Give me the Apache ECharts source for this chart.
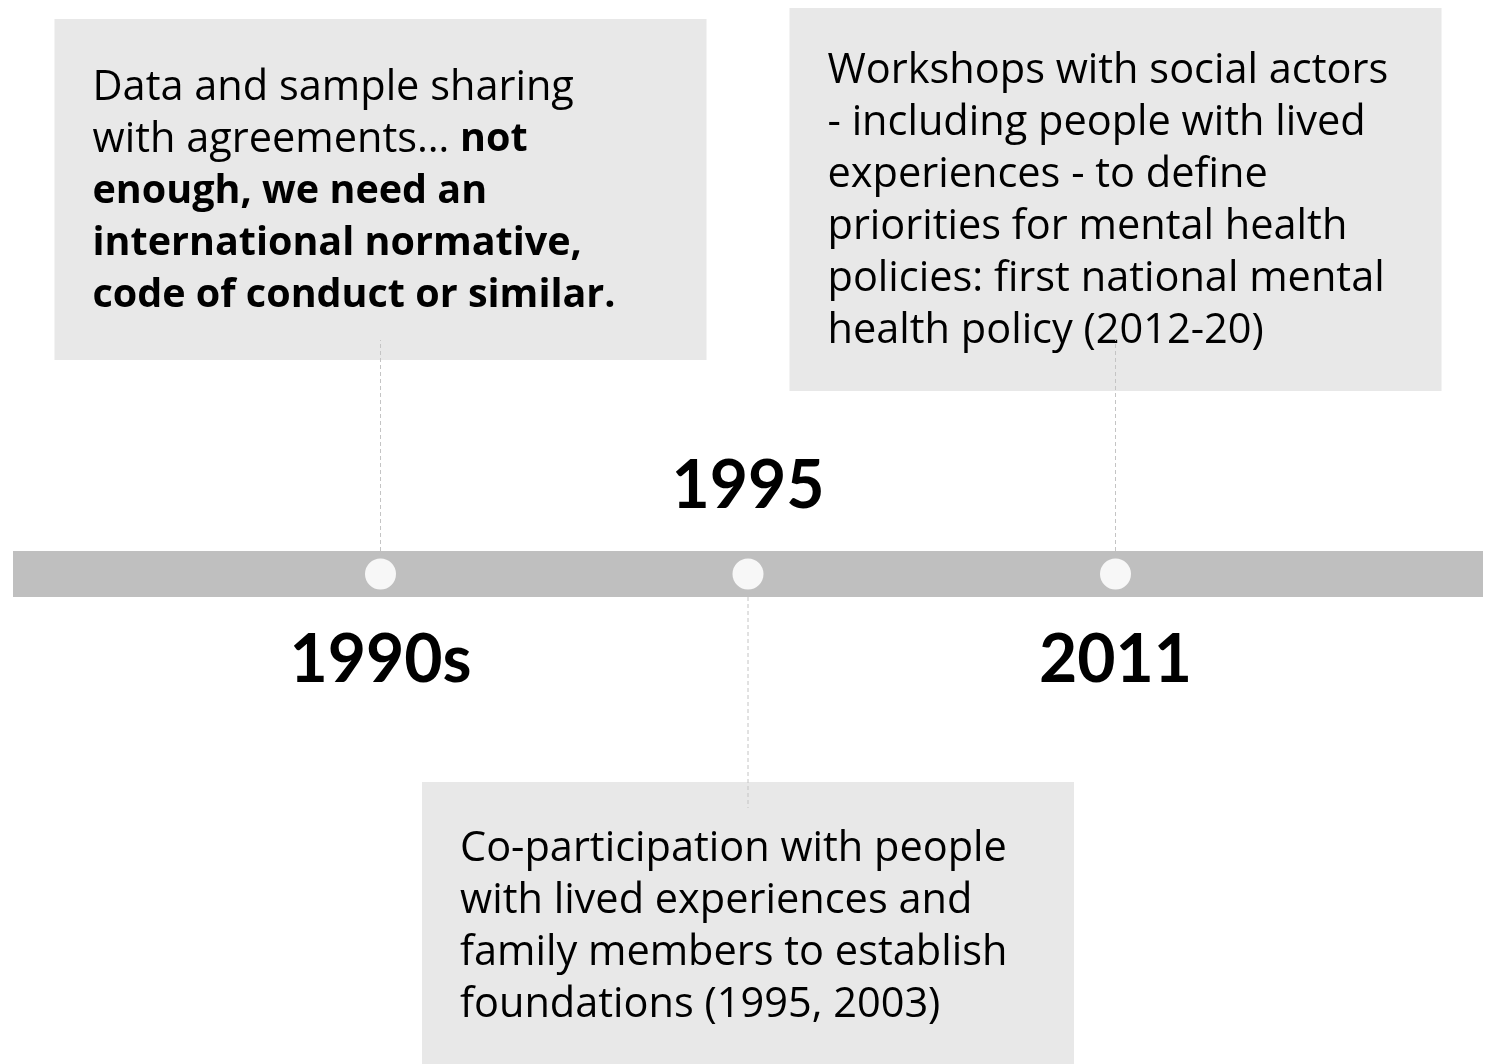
<!DOCTYPE html>
<html>
<head>
<meta charset="utf-8">
<style>
html, body { margin: 0; padding: 0; background: #fff; }
#chart { width: 1496px; height: 1064px; }
</style>
<script src="https://cdn.jsdelivr.net/npm/echarts@6/dist/echarts.min.js"></script>
</head>
<body>
<div id="chart"></div>
<script>
// timeline events
var years = ['1990s', '1995', '2011'];
var slots = [1, 2, 3];              // position on the timeline axis
var sides = [-1, 1, -1];            // -1 = box above the bar, 1 = box below
var notes = [
    ['{r|Data and sample sharing}',
     '{r|with agreements\u2026 }{b|not}',
     '{b|enough, we need an}',
     '{b|international normative,}',
     '{b|code of conduct or similar.}'],
    ['{r|Co-participation with people}',
     '{r|with lived experiences and}',
     '{r|family members to establish}',
     '{r|foundations (1995, 2003)}'],
    ['{r|Workshops with social actors}',
     '{r|- including people with lived}',
     '{r|experiences - to define}',
     '{r|priorities for mental health}',
     '{r|policies: first national mental}',
     '{r|health policy (2012-20)}']
];

// layout of the boxes, relative to the point on the bar
var boxLayout = [
    { top: -555, height: 341, pad: 43 },
    { top: 208, height: 320, pad: 41 },
    { top: -566, height: 383, pad: 37 }
];
var BOX_W = 652;
var FONT = '"Open Sans", Lato, sans-serif';
var YEAR_FONT = 'Lato, "Open Sans", sans-serif';
var LINE_H = 52;

var chart = echarts.init(document.getElementById('chart'));

var option = {
    backgroundColor: '#ffffff',
    animation: false,
    grid: { left: 13, right: 13, top: 84, bottom: 0 },
    xAxis: {
        type: 'value',
        min: 0,
        max: 4,
        axisLine: { show: true, onZero: true, lineStyle: { color: '#bfbfbf', width: 46, cap: 'butt' } },
        axisTick: { show: false },
        axisLabel: { show: false },
        splitLine: { show: false }
    },
    yAxis: {
        type: 'value',
        min: -1,
        max: 1,
        show: false
    },
    series: [
        {
            type: 'custom',
            clip: false,
            silent: true,
            z: 3,
            data: slots.map(function (s, i) { return [s, 0, i]; }),
            renderItem: function (params, api) {
                var i = params.dataIndex;
                var pt = api.coord([api.value(0), 0]);
                var lay = boxLayout[i];
                var dir = sides[i];
                var left = pt[0] - BOX_W / 2;
                var top = pt[1] + lay.top;
                return {
                    type: 'group',
                    children: [
                        {
                            type: 'rect',
                            shape: { x: left, y: top, width: BOX_W, height: lay.height },
                            style: { fill: '#e8e8e8' }
                        },
                        {
                            type: 'text',
                            style: {
                                x: left + 38,
                                y: top + lay.pad,
                                text: notes[i].join('\n'),
                                verticalAlign: 'top',
                                align: 'left',
                                rich: {
                                    r: { fontFamily: FONT, fontSize: 41.5, lineHeight: LINE_H, fill: '#000' },
                                    b: { fontFamily: FONT, fontSize: 39.5, lineHeight: LINE_H, fontWeight: 'bold', fill: '#000' }
                                }
                            }
                        },
                        {
                            type: 'line',
                            shape: { x1: pt[0], y1: pt[1] + dir * 23, x2: pt[0], y2: pt[1] + dir * 234 },
                            style: { stroke: '#c4c4c4', lineWidth: 1, lineDash: [4, 3] }
                        },
                        {
                            type: 'text',
                            style: {
                                x: pt[0],
                                y: pt[1] - dir * 87,
                                text: years[i],
                                align: 'center',
                                verticalAlign: 'middle',
                                fontFamily: YEAR_FONT,
                                fontSize: 66,
                                fontWeight: 'bold',
                                fill: '#000'
                            }
                        }
                    ]
                };
            }
        },
        {
            type: 'scatter',
            silent: true,
            z: 4,
            symbol: 'circle',
            symbolSize: 31,
            itemStyle: { color: '#f7f7f7', opacity: 1 },
            data: slots.map(function (s) { return [s, 0]; })
        }
    ]
};

chart.setOption(option);
</script>
</body>
</html>
